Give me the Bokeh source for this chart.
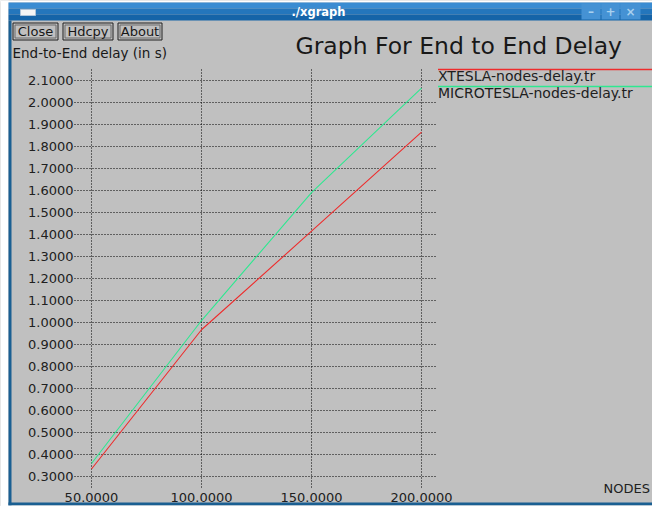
from bokeh.plotting import figure
from bokeh.models import Range1d
from bokeh.core.properties import value
from bokeh.embed import file_html
from bokeh.resources import INLINE

# ---- data ----
nodes = [50, 100, 150, 200]
xtesla_delay = [0.334, 0.967, 1.415, 1.865]
microtesla_delay = [0.359, 1.009, 1.590, 2.065]

x_ticks = [50, 100, 150, 200]
y_ticks = [0.3, 0.4, 0.5, 0.6, 0.7, 0.8, 0.9, 1.0, 1.1, 1.2, 1.3, 1.4, 1.5,
           1.6, 1.7, 1.8, 1.9, 2.0, 2.1]
series_names = ["XTESLA-nodes-delay.tr", "MICROTESLA-nodes-delay.tr"]
series_colors = ["#ee2c2c", "#2ee890"]

W, H = 652, 506
# screen scale: data unit -> pixels
SX = 110.0 / 50.0
SY = 220.0
X0 = 50 - 91.0 / SX        # data x at canvas px 0
YT = 2.1 + 80.0 / SY       # data y at canvas px 0 (top)


def dx(px):
    return X0 + px / SX


def dy(py):
    return YT - py / SY


FONT = value("DejaVu Sans")
BG = "#c0c0c0"
INK = "#181818"

p = figure(width=W, height=H, output_backend="svg", toolbar_location=None,
           x_range=Range1d(dx(0), dx(W)), y_range=Range1d(dy(H), dy(0)),
           x_axis_location=None, y_axis_location=None, title=None,
           min_border=0, background_fill_color=BG, border_fill_color="white")
p.outline_line_color = None
p.grid.visible = False


def box(l, t, r, b, color, line=None, lw=1):
    p.quad(left=dx(l), right=dx(r), top=dy(t), bottom=dy(b), fill_color=color,
           line_color=line, line_width=lw)


def label(x, y, s, size, color=INK, align="left", baseline="middle",
          style="normal"):
    p.text(x=[dx(x)], y=[dy(y)], text=[s], text_font=FONT,
           text_font_size=value(size), text_color=color, text_align=align,
           text_baseline=baseline, text_font_style=style)


# ---- window chrome ----
box(0, 0, 8, H, "white")
box(0, 0, W, 2, "white")
box(8, 2, W, 8, "#3a8cd2")
box(8, 8, W, 14, "#2476bc")
box(8, 14, W, 20, "#1564a8")
box(8, 20, 11, H, "#1a5f92")
box(8, 502, W, 505, "#1a5f92")
box(0, 505, W, H, "white")
box(20, 9, 35, 15, "#f4f4f4", "#b0c4d8", 1)
for l, r, g in [(581, 600, "\u2013"), (601, 619, "+"), (620, 640, "\u00d7")]:
    box(l, 3, r, 19, "#4592d4")
    label((l + r) / 2, 11, g, "12px", "#a8d0ee", "center", style="bold")
label(318, 11.5, "./xgraph", "11.5px", "white", "center", style="bold")

# buttons
for l, r, lab in [(12, 58, "Close"), (62, 113, "Hdcpy"), (117, 162, "About")]:
    box(l + 0.5, 22.5, r - 0.5, 39.5, BG, "#202020", 1)
    box(l + 2.5, 24.5, r - 2.5, 37.5, BG, "#6a6a6a", 1)
    label((l + r) / 2, 31, lab, "13px", INK, "center")

label(12, 52, "End-to-End delay (in s)", "13.5px")
label(295, 45, "Graph For End to End Delay", "23.5px", baseline="alphabetic")

# ---- grid (dotted) ----
for v in y_ticks:
    p.line([dx(74), dx(437)], [v, v], line_color="#000000", line_width=1,
           line_dash="1 2")
for v in x_ticks:
    p.line([v, v], [dy(69), dy(487)], line_color="#000000", line_width=1,
           line_dash="1 2")

# tick labels
p.text(x=[dx(73)] * len(y_ticks), y=y_ticks,
       text=["%.4f" % v for v in y_ticks], text_font=FONT,
       text_font_size=value("13px"), text_color="#202020",
       text_align="right", text_baseline="middle")
p.text(x=x_ticks, y=[dy(497)] * len(x_ticks),
       text=["%.4f" % v for v in x_ticks], text_font=FONT,
       text_font_size=value("13px"), text_color="#202020",
       text_align="center", text_baseline="middle")
label(603, 488, "NODES", "13px", "#202020")

# ---- data lines ----
p.line(nodes, xtesla_delay, line_color=series_colors[0], line_width=1.1)
p.line(nodes, microtesla_delay, line_color=series_colors[1], line_width=1.1)

# ---- legend ----
for i, (name, col) in enumerate(zip(series_names, series_colors)):
    ly = 69 + i * 17
    p.line([dx(437.5), dx(W)], [dy(ly), dy(ly)], line_color=col,
           line_width=1.3)
    label(437.5, ly + 6, name, "14px", "#202020")

open("out.html", "w").write(file_html(p, INLINE))
